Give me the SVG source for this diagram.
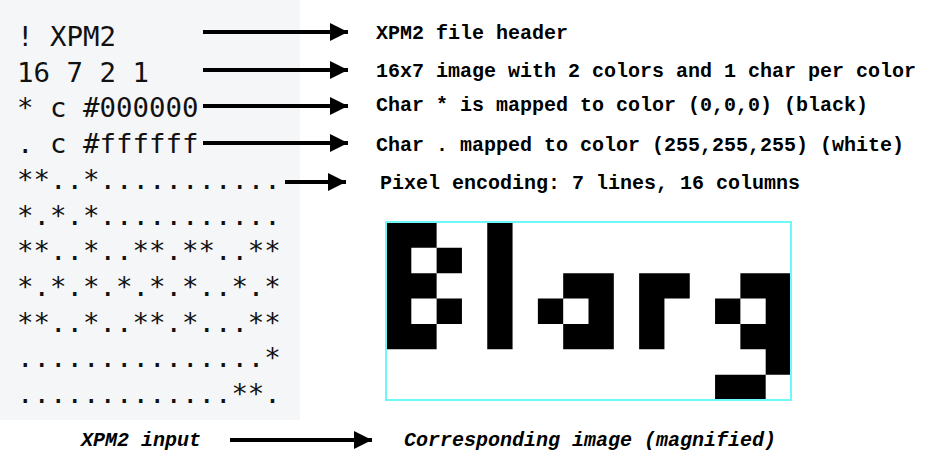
<svg xmlns="http://www.w3.org/2000/svg" width="928" height="462" viewBox="0 0 928 462">
<defs>
<style>
.src{font-family:"DejaVu Sans Mono","Liberation Mono",monospace;font-size:27.4px;fill:#111}
.lbl{font-family:"Liberation Mono","Courier New",monospace;font-size:20px;font-weight:bold;fill:#000}
.cap{font-family:"Liberation Mono","Courier New",monospace;font-size:20px;font-weight:bold;font-style:italic;fill:#000}
.conn line{stroke:#000;stroke-width:4}
</style>
<marker id="ah" viewBox="0 0 18 18" refX="18" refY="9" markerWidth="18" markerHeight="18" markerUnits="userSpaceOnUse" orient="auto">
<path d="M0 0L18 9L0 18z" fill="#000"/>
</marker>
</defs>
<rect width="928" height="462" fill="#fff"/>
<g id="xpm2-input">
<rect x="0" y="0" width="300" height="420" fill="#f5f6f8"/>
<text class="src" x="17" y="46">! XPM2</text>
<text class="src" x="17" y="81.7">16 7 2 1</text>
<text class="src" x="17" y="117.4">* c #000000</text>
<text class="src" x="17" y="153.1">. c #ffffff</text>
<text class="src" x="17" y="188.8">**..*...........</text>
<text class="src" x="17" y="224.5">*.*.*...........</text>
<text class="src" x="17" y="260.2">**..*..**.**..**</text>
<text class="src" x="17" y="295.9">*.*.*.*.*.*..*.*</text>
<text class="src" x="17" y="331.6">**..*..**.*...**</text>
<text class="src" x="17" y="367.3">...............*</text>
<text class="src" x="17" y="403">.............**.</text>
</g>
<g id="labels">
<text class="lbl" x="376" y="39">XPM2 file header</text>
<text class="lbl" x="376" y="77">16x7 image with 2 colors and 1 char per color</text>
<text class="lbl" x="376" y="111">Char * is mapped to color (0,0,0) (black)</text>
<text class="lbl" x="376" y="151">Char . mapped to color (255,255,255) (white)</text>
<text class="lbl" x="380" y="189">Pixel encoding: 7 lines, 16 columns</text>
</g>
<g id="image">
<rect x="386" y="222" width="405" height="178" fill="#fff"/>
<path transform="translate(386,222.5) scale(25.3125,25.36)" fill="#000" d="M0 0h2v1h-2z M4 0h1v1h-1z M0 1h1v1h-1z M2 1h1v1h-1z M4 1h1v1h-1z M0 2h2v1h-2z M4 2h1v1h-1z M7 2h2v1h-2z M10 2h2v1h-2z M14 2h2v1h-2z M0 3h1v1h-1z M2 3h1v1h-1z M4 3h1v1h-1z M6 3h1v1h-1z M8 3h1v1h-1z M10 3h1v1h-1z M13 3h1v1h-1z M15 3h1v1h-1z M0 4h2v1h-2z M4 4h1v1h-1z M7 4h2v1h-2z M10 4h1v1h-1z M14 4h2v1h-2z M15 5h1v1h-1z M13 6h2v1h-2z"/>
<rect x="386" y="222" width="405" height="178" fill="none" stroke="#6ff8f8" stroke-width="2"/>
</g>
<g id="captions">
<text class="cap" x="81" y="446">XPM2 input</text>
<text class="cap" x="404" y="446">Corresponding image (magnified)</text>
</g>
<g id="connectors" class="conn">
<line x1="203" y1="32" x2="348" y2="32" marker-end="url(#ah)"/>
<line x1="203" y1="70" x2="348" y2="70" marker-end="url(#ah)"/>
<line x1="203" y1="106" x2="348" y2="106" marker-end="url(#ah)"/>
<line x1="203" y1="143" x2="348" y2="143" marker-end="url(#ah)"/>
<line x1="285" y1="182" x2="346" y2="182" marker-end="url(#ah)"/>
<line x1="230" y1="440" x2="372" y2="440" marker-end="url(#ah)"/>
</g>
</svg>
